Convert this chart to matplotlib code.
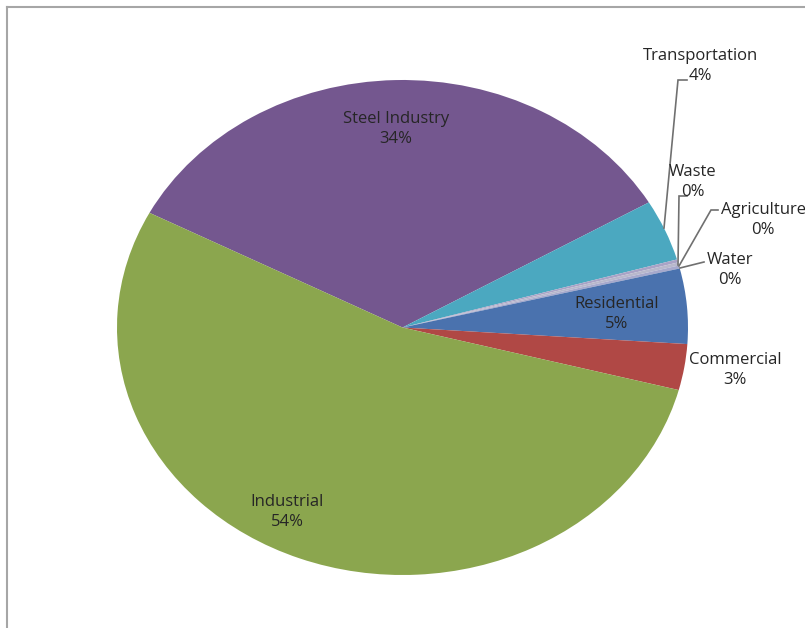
import matplotlib.pyplot as plt
from matplotlib.lines import Line2D

sectors = ['Steel Industry', 'Transportation', 'Waste', 'Agriculture', 'Water',
           'Residential', 'Commercial', 'Industrial']
shares = [33.9, 4.0, 0.2, 0.2, 0.2, 4.9, 3.0, 53.6]
colors = ['#74578F', '#4BA8C0', '#A9A3C6', '#B8B8CC', '#A7A9CC',
          '#4A72AE', '#B04845', '#8BA64E']

W, H = 805, 628
cx, cy, rx, ry = 402.5, 327.5, 285.5, 247.5


def px(x, y):
    # picture pixels -> pie data coords (the pie is stretched into an ellipse)
    return (x - cx) / rx, (cy - y) / ry


plt.rcParams['font.family'] = ['Open Sans', 'DejaVu Sans']
fig = plt.figure(figsize=(W / 100, H / 100), dpi=100)
ax = fig.add_axes([0, 0, 1, 1])
wedges, _ = ax.pie(shares, colors=colors, startangle=152.4, counterclock=False,
                   wedgeprops=dict(linewidth=0))
ax.set_aspect('auto')
ax.set_xlim(-cx / rx, (W - cx) / rx)
ax.set_ylim(-(H - cy) / ry, cy / ry)
ax.axis('off')

fs = 12
tc = '#262626'
ls = 1.3

# labels inside the slices
for i, (x, y) in {0: (396, 129), 5: (617, 314), 7: (287, 512)}.items():
    ax.text(*px(x, y), f'{sectors[i]}\n{round(shares[i])}%', ha='center',
            va='center', fontsize=fs, color=tc, linespacing=ls)

# labels outside with leader lines
outside = {
    1: ((700, 66), [(664, 228), (678, 80), (687, 80)]),
    2: ((693, 182), [(678, 265), (679, 196), (687, 196)]),
    3: ((763, 220), [(679, 266), (711, 210), (718, 210)]),
    4: ((730, 270), [(680, 268), (704, 262)]),
    6: ((735, 370), None),
}
for i, ((x, y), line) in outside.items():
    ax.text(*px(x, y), f'{sectors[i]}\n{round(shares[i])}%', ha='center',
            va='center', fontsize=fs, color=tc, linespacing=ls)
    if line:
        pts = [px(a, b) for a, b in line]
        ax.plot([p[0] for p in pts], [p[1] for p in pts], color='#707070',
                lw=1.2, solid_joinstyle='miter')

# chart-area frame (only top and left edges are in view)
fig.add_artist(Line2D([7 / W, 7 / W], [0, 1 - 7 / H], color='#A6A6A6', lw=1.5))
fig.add_artist(Line2D([7 / W, 1], [1 - 7 / H, 1 - 7 / H], color='#A6A6A6', lw=1.5))

fig.savefig('out.png', dpi=100)
